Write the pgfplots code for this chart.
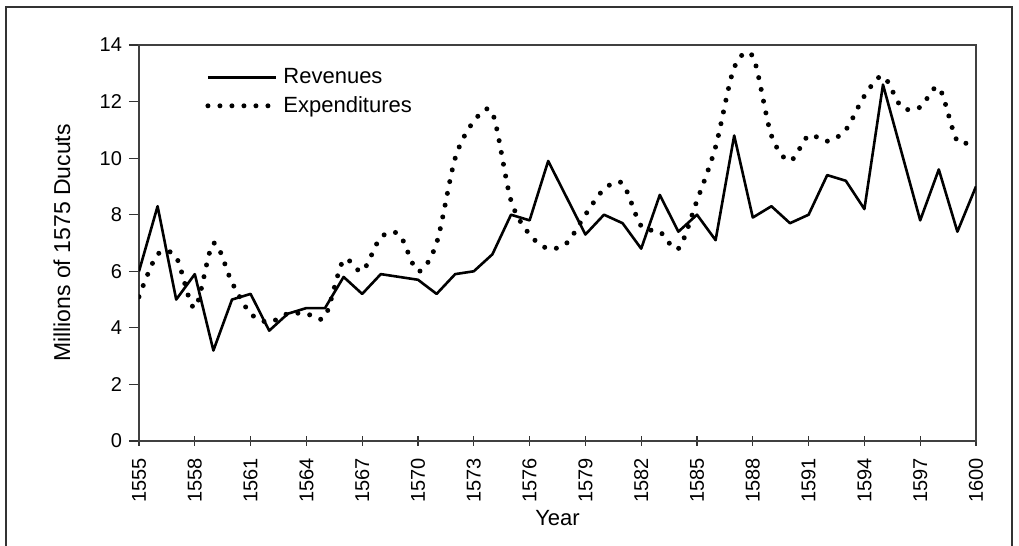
\documentclass[border=0pt]{standalone}
\usepackage{fontspec}
\setmainfont{Liberation Sans}
\usepackage{pgfplots}
\pgfplotsset{compat=1.18}

\pgfplotstableread{
year rev
1555 6.0
1556 8.3
1557 5.0
1558 5.9
1559 3.2
1560 5.0
1561 5.2
1562 3.9
1563 4.5
1564 4.7
1565 4.7
1566 5.8
1567 5.2
1568 5.9
1569 5.8
1570 5.7
1571 5.2
1572 5.9
1573 6.0
1574 6.6
1575 8.0
1576 7.8
1577 9.9
1578 8.6
1579 7.3
1580 8.0
1581 7.7
1582 6.8
1583 8.7
1584 7.4
1585 8.0
1586 7.1
1587 10.8
1588 7.9
1589 8.3
1590 7.7
1591 8.0
1592 9.4
1593 9.2
1594 8.2
1595 12.6
1596 10.2
1597 7.8
1598 9.6
1599 7.4
1600 9.0
}\revenues

\pgfplotstableread{
year exp
1555 5.1
1556 6.6
1557 6.5
1558 4.7
1559 7.0
1560 5.6
1561 4.5
1562 4.2
1563 4.5
1564 4.5
1565 4.4
1566 6.4
1567 6.0
1568 7.2
1569 7.3
1570 6.0
1571 7.0
1572 10.0
1573 11.3
1574 11.6
1575 8.5
1576 7.3
1577 6.8
1578 7.0
1579 8.0
1580 8.9
1581 9.1
1582 7.6
1583 7.4
1584 6.8
1585 8.5
1586 10.4
1587 13.2
1588 13.6
1589 10.8
1590 9.9
1591 10.8
1592 10.6
1593 11.0
1594 12.2
1595 12.9
1596 11.8
1597 11.8
1598 12.5
1599 10.6
1600 10.7
}\expenditures

\begin{document}
\begin{tikzpicture}
\begin{axis}[
  name=ax,
  scale only axis,
  width=418.5pt, height=198pt,
  xmin=1555, xmax=1600, ymin=0, ymax=14,
  xtick={1555,1558,...,1600}, minor x tick num=2,
  ytick={0,2,...,14},
  xtick pos=bottom, ytick pos=left,
  tick align=outside,
  major tick length=5pt, minor tick length=5pt,
  x tick style={yshift=2.5pt},
  every tick/.style={black!80, line width=0.6pt},
  axis line style={black!75, line width=0.75pt},
  /pgf/number format/1000 sep={},
  /pgf/number format/assume math mode=true,
  tick label style={font=\fontsize{10}{12}\selectfont},
  xticklabel style={rotate=90, anchor=east},
  xlabel={Year}, ylabel={Millions of 1575 Ducuts},
  every axis x label/.style={at={(axis description cs:0.5,-0.1944)}, anchor=center, font=\fontsize{11}{13}\selectfont},
  every axis y label/.style={at={(axis description cs:-0.092,0.5)}, rotate=90, anchor=center, font=\fontsize{11.5}{13}\selectfont},
  legend image code/.code={\draw[#1] (0pt,0pt) -- (34pt,0pt);},
  legend style={draw=none, fill=none, at={(axis description cs:0.0789,0.955)}, anchor=north west,
    font=\fontsize{11}{13}\selectfont, inner sep=0pt, row sep=0pt,
    nodes={inner sep=2.5pt}},
  legend cell align=left,
]
\addplot[black, line width=1.3pt, line join=round] table[x=year, y=rev] {\revenues};
\addlegendentry{Revenues}
\addplot[black, line width=2.5pt, line cap=round, dash pattern=on 0pt off 6pt, smooth, tension=0.5] table[x=year, y=exp] {\expenditures};
\addlegendentry{Expenditures}
\end{axis}
\draw[line width=0.75pt, black!80]
  ([shift={(-66.5pt,-60pt)}]ax.south west) -- ([shift={(-66.5pt,217pt)}]ax.south west)
  -- ([shift={(436.5pt,217pt)}]ax.south west) -- ([shift={(436.5pt,-60pt)}]ax.south west);
\pgfresetboundingbox
\path ([shift={(-69.5pt,-52.5pt)}]ax.south west) rectangle ([shift={(440pt,220.5pt)}]ax.south west);
\end{tikzpicture}
\end{document}
